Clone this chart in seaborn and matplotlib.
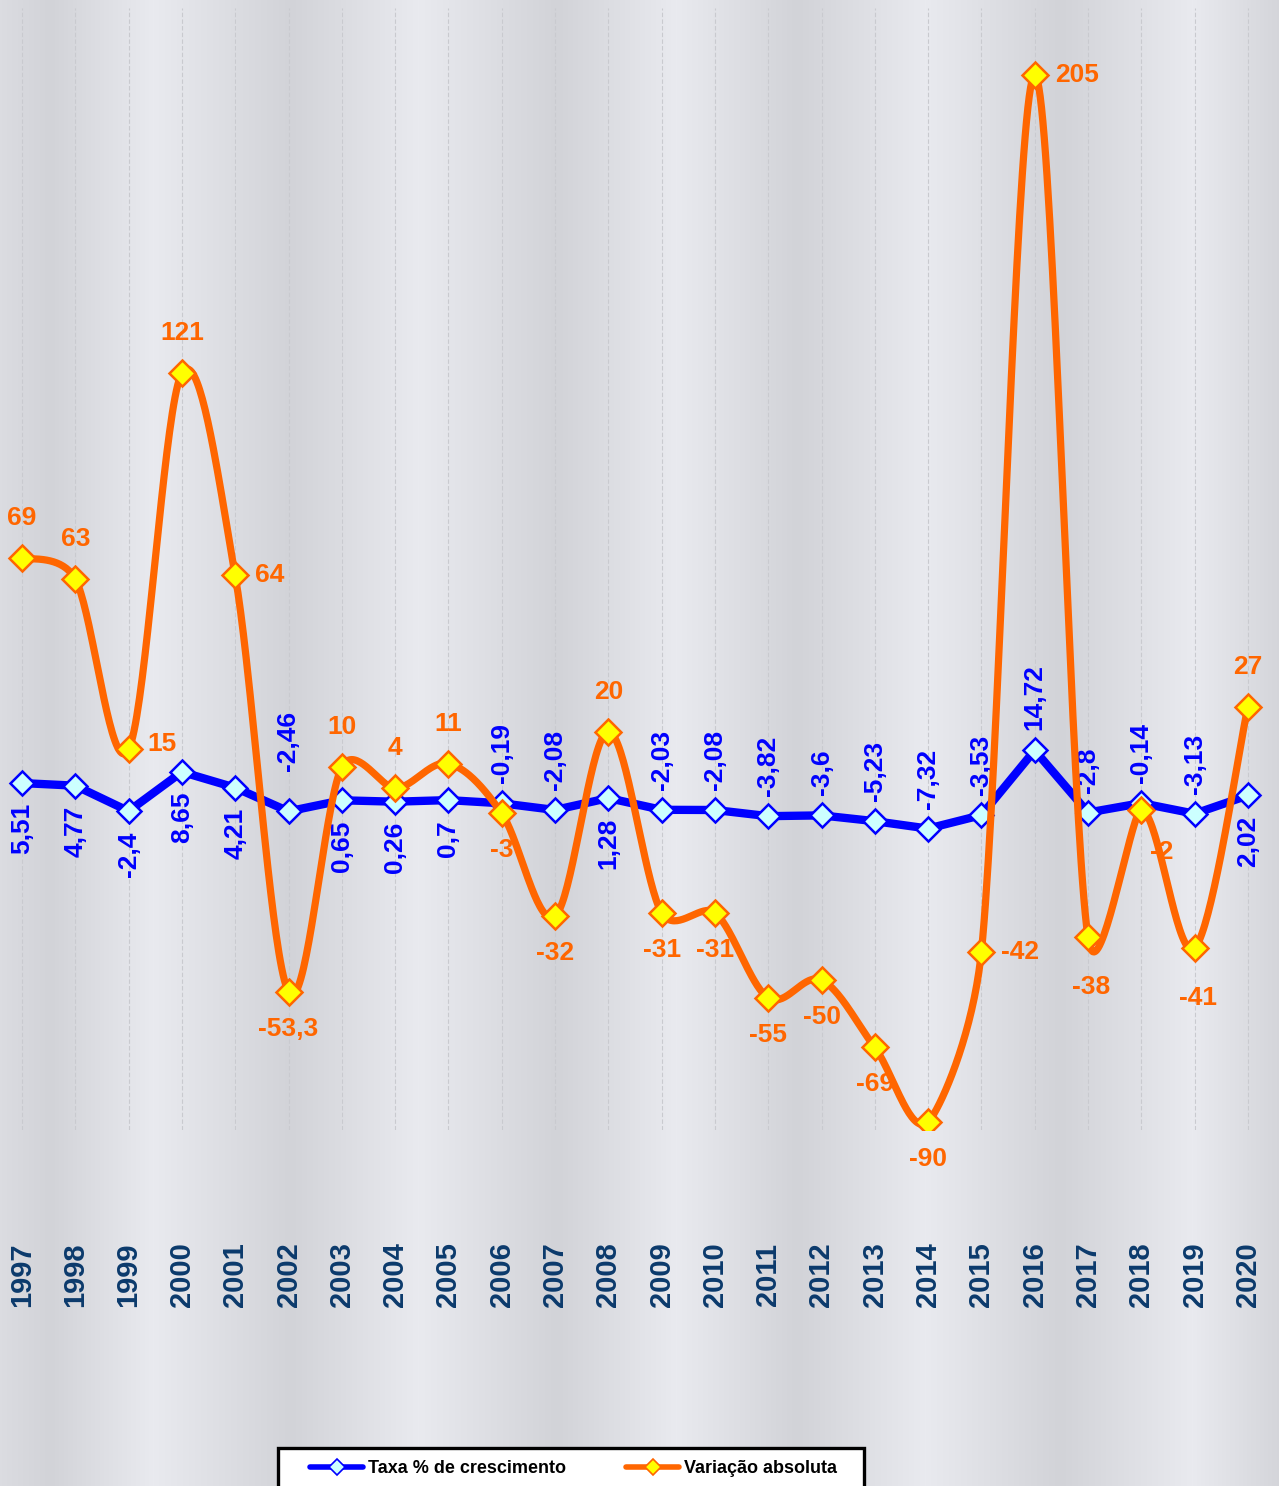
import matplotlib
matplotlib.use("Agg")
import matplotlib.pyplot as plt
import seaborn as sns
import numpy as np
import pandas as pd
from matplotlib import font_manager
from matplotlib.lines import Line2D
from matplotlib.patches import Rectangle

# ---------------------------------------------
# DATA
# ---------------------------------------------
years = ["1997", "1998", "1999", "2000", "2001", "2002", "2003", "2004",
         "2005", "2006", "2007", "2008", "2009", "2010", "2011", "2012",
         "2013", "2014", "2015", "2016", "2017", "2018", "2019", "2020"]

taxa = [5.51, 4.77, -2.4, 8.65, 4.21, -2.46, 0.65, 0.26, 0.7, -0.19, -2.08, 1.28,
        -2.03, -2.08, -3.82, -3.6, -5.23, -7.32, -3.53, 14.72, -2.8, -0.14, -3.13, 2.02]

variacao = [69, 63, 15, 121, 64, -53.3, 10, 4, 11, -3, -32, 20,
            -31, -31, -55, -50, -69, -90, -42, 205, -38, -2, -41, 27]

# label placement (style only)
taxa_side = ["below", "below", "below", "below", "below", "above_far", "below", "below",
             "below", "above", "above", "below", "above", "above", "above", "above",
             "above", "above", "above", "above", "above", "above", "above", "below"]

var_side = ["above", "above", "right_up", "above", "right", "below", "above", "above",
            "above", "below", "below", "above", "below", "below", "below", "below",
            "below", "below", "right", "right", "below_far", "below_right", "below_far", "above"]

# ---------------------------------------------
# FONTS / COLORS
# ---------------------------------------------
names = {f.name for f in font_manager.fontManager.ttflist}
main_font = "Liberation Sans" if "Liberation Sans" in names else "DejaVu Sans"
if "Liberation Sans Narrow" in names:
    legend_font, legend_size = "Liberation Sans Narrow", 15
else:
    legend_font, legend_size = main_font, 13

sns.set_style("white")
plt.rcParams["font.family"] = [main_font, "DejaVu Sans"]

BLUE = "#0000ff"
ORANGE = "#ff6600"
NAVY = "#0b3a6c"

W, H = 1279, 1486
fig = plt.figure(figsize=(W / 100, H / 100), dpi=100)

# background bands
bx = [0, 50, 153, 290, 418, 557, 676, 797, 925, 1060, 1192, 1279]
bv = [0.4, 0.0, 1.0, 0.0, 1.0, 0.0, 1.0, 0.0, 1.0, 0.0, 1.0, 0.1]
xs = np.arange(W)
t = np.interp(xs, bx, bv)
dark = np.array([210, 211, 216]) / 255
light = np.array([233, 234, 239]) / 255
grad = dark[None, :] * (1 - t[:, None]) + light[None, :] * t[:, None]
bg = fig.add_axes([0, 0, 1, 1], zorder=-5)
bg.imshow(grad[None, :, :], aspect="auto", extent=[0, 1, 0, 1])
bg.axis("off")

# main axes
top_px, bot_px = 8, 1130
ax = fig.add_axes([0, 1 - bot_px / H, 1, (bot_px - top_px) / H])
ax.patch.set_alpha(0)
XLIM = (-22 / 53.3, (W - 22) / 53.3)
YLIM = (-92.25, 223.9)

x = np.arange(len(years))
df = pd.DataFrame({"x": x, "taxa": taxa, "var": variacao})


def smooth(px, py, n=40):
    # Excel-like smoothed line (Bezier, tension 1/6, capped), computed in pixel space
    sx = W / (XLIM[1] - XLIM[0])
    sy = (bot_px - top_px) / (YLIM[1] - YLIM[0])
    P = np.column_stack([np.asarray(px) * sx, np.asarray(py) * sy]).astype(float)
    P = np.vstack([P[0], P, P[-1]])
    out = []
    tt = np.linspace(0, 1, n)[:, None]
    for i in range(1, len(P) - 2):
        p0, p1, p2, p3 = P[i - 1], P[i], P[i + 1], P[i + 2]
        d02 = np.linalg.norm(p2 - p0)
        d12 = np.linalg.norm(p2 - p1)
        d13 = np.linalg.norm(p3 - p1)
        a = d02 / 6 < d12 / 2
        b = d13 / 6 < d12 / 2
        if a and b:
            f0 = f3 = 1 / 6
        elif not a and not b:
            f0 = d12 / 2 / d02
            f3 = d12 / 2 / d13
        elif not a:
            f0 = f3 = d12 / 2 / d02
        else:
            f0 = f3 = d12 / 2 / d13
        c1 = p1 + (p2 - p0) * f0
        c2 = p2 - (p3 - p1) * f3
        seg = ((1 - tt) ** 3) * p1 + 3 * ((1 - tt) ** 2) * tt * c1 \
            + 3 * (1 - tt) * tt ** 2 * c2 + tt ** 3 * p2
        out.append(seg)
    out = np.vstack(out)
    return out[:, 0] / sx, out[:, 1] / sy


# blue line
sns.lineplot(data=df, x="x", y="taxa", ax=ax, color=BLUE, lw=6, marker="D",
             markersize=12, markerfacecolor="#ccffff", markeredgecolor=BLUE,
             markeredgewidth=1.8, zorder=3)

# orange smoothed line
cx, cy = smooth(df["x"], df["var"])
sm = pd.DataFrame({"x": cx, "y": cy})
sns.lineplot(data=sm, x="x", y="y", ax=ax, color=ORANGE, lw=5.2, sort=False,
             estimator=None, zorder=4)
ax.plot(df["x"], df["var"], ls="none", marker="D", markersize=13,
        markerfacecolor="#ffff00", markeredgecolor=ORANGE, markeredgewidth=1.8, zorder=5)

# labels
blue_off = {"below": (-20, "top"), "above": (20, "bottom"), "above_far": (40, "bottom")}
for xi, v, side in zip(x, taxa, taxa_side):
    lab = f"{v:g}".replace(".", ",")
    dy, va = blue_off[side]
    ax.annotate(lab, (xi, v), xytext=(0, dy), textcoords="offset pixels",
                rotation=90, ha="center", va=va, color=BLUE,
                fontsize=19, fontweight="bold", zorder=2)

offsets = {
    "above": (0, 40, "center"),
    "below": (0, -37, "center"),
    "below_far": (3, -50, "center"),
    "below_right": (20, -42, "center"),
    "right": (20, 0, "left"),
    "right_up": (19, 5, "left"),
}
for xi, v, side in zip(x, variacao, var_side):
    dx, dy, ha = offsets[side]
    lab = f"{v:g}".replace(".", ",")
    ax.annotate(lab, (xi, v), xytext=(dx, dy), textcoords="offset pixels",
                ha=ha, va="center", color=ORANGE, fontsize=19,
                fontweight="bold", zorder=2)

# axes styling
ax.set_xlim(*XLIM)
ax.set_ylim(*YLIM)
ax.set_xticks(x)
ax.set_xticklabels(years, rotation=90, fontsize=21, fontweight="bold", color=NAVY)
ax.tick_params(axis="x", length=0, pad=81)
ax.set_yticks([])
ax.set_xlabel("")
ax.set_ylabel("")
ax.grid(axis="x", color="#c9cacf", lw=0.8, ls=(0, (4, 2)))
ax.grid(axis="y", visible=False)
for s in ax.spines.values():
    s.set_visible(False)

# legend box
fig.patches.append(Rectangle((278 / W, -0.02), 586 / W, 0.02 + (H - 1448) / H,
                             transform=fig.transFigure, facecolor="white",
                             edgecolor="black", lw=2.4, zorder=1))
handles = [
    Line2D([], [], color=BLUE, lw=4, marker="D", markersize=8,
           markerfacecolor="#ccffff", markeredgecolor=BLUE, markeredgewidth=1.2),
    Line2D([], [], color=ORANGE, lw=4, marker="D", markersize=8,
           markerfacecolor="#ffff00", markeredgecolor=ORANGE, markeredgewidth=1.2),
]
fs_px = legend_size * 100 / 72
leg = fig.legend(handles, ["Taxa % de crescimento", "Variação absoluta"],
                 loc="upper left", bbox_to_anchor=(310 / W, 1 - 1460 / H),
                 bbox_transform=fig.transFigure, ncol=2, frameon=False,
                 borderpad=0, borderaxespad=0, handlelength=53 / fs_px,
                 handletextpad=5 / fs_px, columnspacing=60 / fs_px,
                 prop={"family": legend_font, "weight": "bold", "size": legend_size})
leg.set_zorder(10)
for txt in leg.get_texts():
    txt.set_color("black")

plt.savefig("out.png", dpi=100)
